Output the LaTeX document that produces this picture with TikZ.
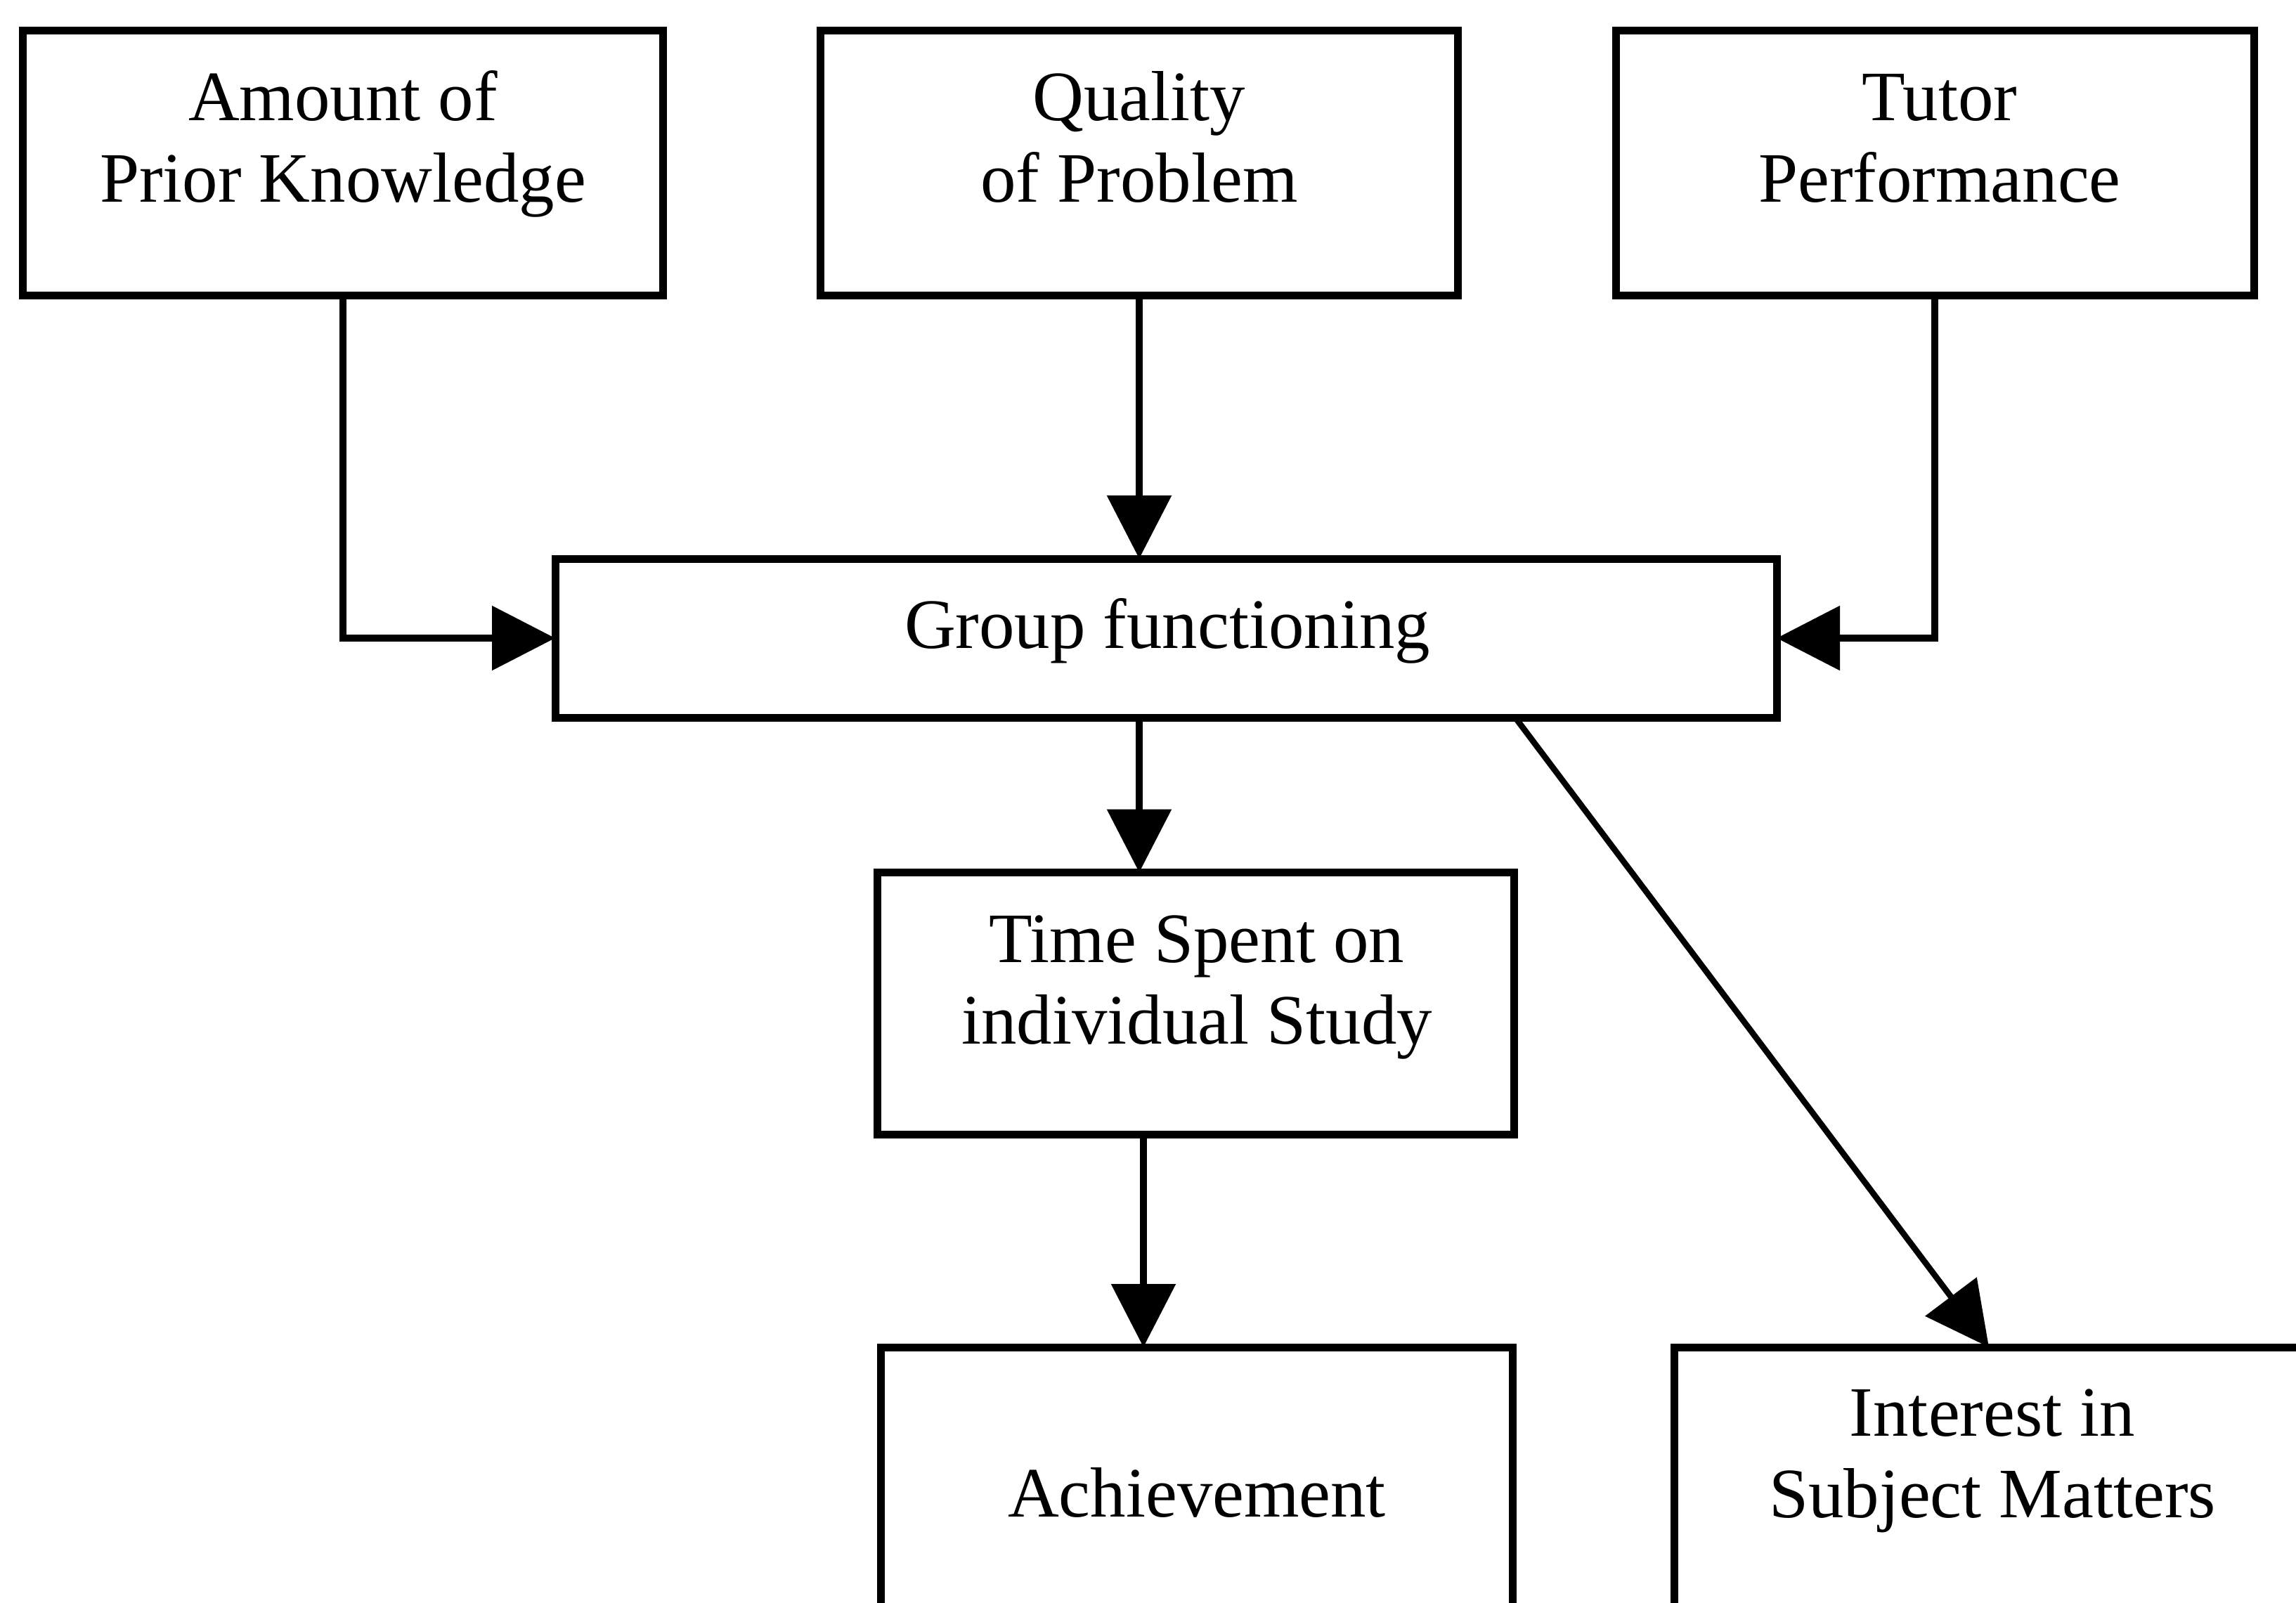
\documentclass[tikz,border=0pt]{standalone}
\usepackage{fontspec}
\setmainfont{Liberation Serif}
\usetikzlibrary{arrows.meta}
\begin{document}
\begin{tikzpicture}[
  box/.style={draw=black, line width=1.1mm, rectangle, inner sep=0pt, outer sep=0pt},
  txt/.style={font=\fontsize{28.7}{33}\selectfont, align=center, inner sep=0pt},
  conn/.style={line width=0.95mm, -{Triangle[length=9mm, width=9mm]}}
]
\useasboundingbox (0,0) rectangle (32.67,-22.81);
\clip (0,0) rectangle (32.67,-22.81);

% top row: the three influencing factors
\node[box, minimum width=9.11cm, minimum height=3.77cm] (amount)  at (4.88,-2.32) {};
\node[box, minimum width=9.07cm, minimum height=3.77cm] (quality) at (16.21,-2.32) {};
\node[box, minimum width=9.08cm, minimum height=3.77cm] (tutor)   at (27.53,-2.32) {};
\node[txt] (amountText)  at (4.88,-2.06)  {\strut Amount of\\\strut Prior Knowledge};
\node[txt] (qualityText) at (16.21,-2.06) {\strut Quality\\\strut of Problem};
\node[txt] (tutorText)   at (27.60,-2.06) {\strut Tutor\\\strut Performance};

% middle: group functioning and study time
\node[box, minimum width=17.38cm, minimum height=2.26cm] (group) at (16.59,-9.08) {};
\node[txt] (groupText) at (16.61,-8.99) {\strut Group functioning};
\node[box, minimum width=9.06cm, minimum height=3.73cm] (time) at (17.01,-14.28) {};
\node[txt] (timeText) at (17.03,-14.04) {\strut Time Spent on\\\strut individual Study};

% bottom row: outcomes (boxes run past the lower edge)
\node[box, minimum width=8.99cm, minimum height=5cm] (achieve)  at (17.025,-21.67) {};
\node[box, minimum width=9.06cm, minimum height=5cm] (interest) at (28.35,-21.67) {};
\node[txt] (achieveText)  at (17.03,-21.35) {\strut Achievement};
\node[txt] (interestText) at (28.35,-20.78) {\strut Interest in\\\strut Subject Matters};

% connectors
\draw[conn] (amount.south) |- (group.west);
\draw[conn] (quality.south) -- (quality.south |- group.north);
\draw[conn] (tutor.south) |- (group.east);
\draw[conn] (group.south -| quality.south) -- (time.north -| quality.south);
\draw[conn] ([xshift=-7.4mm]time.south) -- ([xshift=-7.4mm]time.south |- achieve.north);
\draw[conn, line width=0.85mm] ([xshift=49.7mm]group.south) -- ([xshift=-0.5mm]interest.north);
\end{tikzpicture}
\end{document}
